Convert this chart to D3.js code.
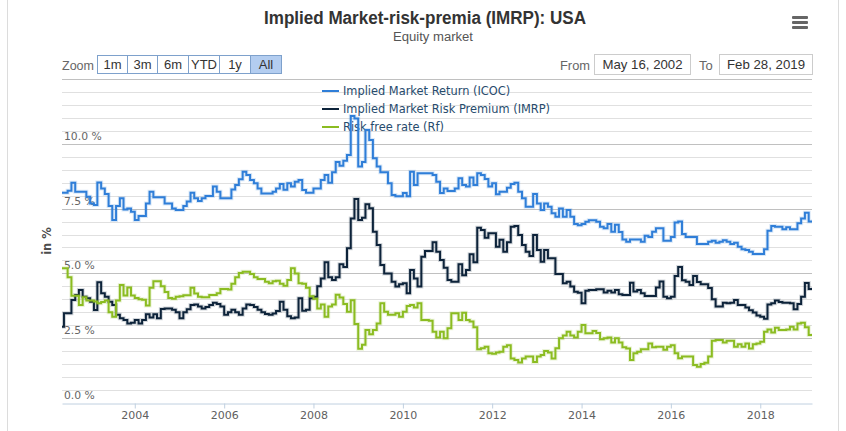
<!DOCTYPE html>
<html><head><meta charset="utf-8">
<script src="https://cdn.jsdelivr.net/npm/d3@7"></script>
<style>body{margin:0;background:#fff}svg{display:block}</style>
</head><body>
<svg id="c" width="846" height="431"></svg>
<script>
// ---------- DATA ----------
const titleText = "Implied Market-risk-premia (IMRP): USA";
const subtitleText = "Equity market";
const seriesNames = ["Implied Market Return (ICOC)", "Implied Market Risk Premium (IMRP)", "Risk free rate (Rf)"];
const seriesColors = ["#2f7ed8", "#0d233a", "#8bbc21"];
const startDate = "2002-05-16";
const endDate = "2019-02-28";
const yLabelTicks = [0, 2.5, 5, 7.5, 10];
const xTickYears = ["2004", "2006", "2008", "2010", "2012", "2014", "2016", "2018"];
const zoomButtons = ["1m", "3m", "6m", "YTD", "1y", "All"];
const fromText = "May 16, 2002";
const toText = "Feb 28, 2019";

// step change points: [date, value in %]
const icoc = [["2002-05-16",8.11],["2002-07",8.19],["2002-08",8.5],["2002-09",8.15],["2002-12",7.96],["2003-01",7.7],["2003-02",7.64],["2003-03",8.51],["2003-04",8.28],["2003-05",8.06],["2003-06",7.6],["2003-07",7.06],["2003-08",7.6],["2003-09",7.9],["2003-10",7.47],["2003-11",7.5],["2003-12",7.38],["2004-01",7.06],["2004-02",7.21],["2004-04",7.7],["2004-05",8.15],["2004-06",7.94],["2004-09",7.7],["2004-11",7.5],["2004-12",7.45],["2005-02",7.6],["2005-03",7.77],["2005-04",8.11],["2005-05",7.9],["2005-06",7.79],["2005-07",7.9],["2005-08",7.99],["2005-10",8.35],["2005-11",8.15],["2005-12",7.9],["2006-03",8.24],["2006-04",8.41],["2006-05",8.63],["2006-06",8.92],["2006-07",8.8],["2006-08",8.6],["2006-09",8.48],["2006-10",8.28],["2006-11",8.08],["2007-02",8.15],["2007-03",8.28],["2007-04",8.45],["2007-05",8.23],["2007-06",8.48],["2007-07",8.35],["2007-08",8.54],["2007-09",8.6],["2007-10",8.22],["2007-11",8.11],["2008-01",8.28],["2008-03",8.6],["2008-04",8.8],["2008-05",8.5],["2008-06",8.9],["2008-07",9.3],["2008-08",9.15],["2008-09",9.35],["2008-10",9.57],["2008-11",11.07],["2008-12",10.98],["2009-01",9.12],["2009-02",9.3],["2009-03",10.53],["2009-04",10.15],["2009-05",9.44],["2009-06",9.12],["2009-07",8.9],["2009-09",8.48],["2009-10",8.02],["2009-11",7.98],["2010-01",8.1],["2010-02",7.98],["2010-03",8.92],["2010-04",8.41],["2010-05",8.86],["2010-09",8.8],["2010-10",8.54],["2010-11",8.1],["2010-12",8.28],["2011-01",8.18],["2011-03",8.28],["2011-04",8.67],["2011-05",8.41],["2011-06",8.35],["2011-07",8.7],["2011-08",8.41],["2011-09",8.86],["2011-10",8.8],["2011-11",8.64],["2011-12",8.35],["2012-01",8.48],["2012-02",8.05],["2012-03",8.15],["2012-05",8.3],["2012-06",8.45],["2012-07",8.5],["2012-08",8.15],["2012-09",7.9],["2012-10",7.57],["2012-12",8.06],["2013-01",7.7],["2013-02",7.45],["2013-03",7.7],["2013-04",7.57],["2013-05",7.32],["2013-06",7.19],["2013-07",7.5],["2013-08",7.19],["2013-09",7.45],["2013-10",7.19],["2013-11",6.91],["2013-12",6.86],["2014-01",6.91],["2014-02",6.99],["2014-03",7.05],["2014-05",6.99],["2014-06",6.8],["2014-07",6.74],["2014-08",6.91],["2014-09",6.61],["2014-10",6.88],["2014-11",6.6],["2014-12",6.31],["2015-01",6.22],["2015-02",6.31],["2015-05",6.22],["2015-06",6.45],["2015-07",6.4],["2015-08",6.61],["2015-09",6.74],["2015-11",6.26],["2016-01",6.4],["2016-02",6.96],["2016-03",7.0],["2016-04",6.52],["2016-05",6.4],["2016-08",6.13],["2016-11",6.22],["2016-12",6.26],["2017-01",6.18],["2017-02",6.22],["2017-03",6.28],["2017-04",6.22],["2017-05",6.13],["2017-06",6.18],["2017-07",6.03],["2017-08",5.93],["2017-09",5.9],["2017-10",5.84],["2017-11",5.75],["2018-02",5.93],["2018-03",6.65],["2018-04",6.83],["2018-05",6.8],["2018-07",6.7],["2018-08",6.78],["2018-09",6.7],["2018-11",6.93],["2018-12",7.12],["2019-01",7.34],["2019-02",7.0]];

const imrp = [["2002-05-16",2.94],["2002-06",3.46],["2002-08",3.97],["2002-09",4.17],["2002-10",4.36],["2002-11",4.1],["2002-12",4.04],["2003-01",3.91],["2003-02",3.59],["2003-03",4.66],["2003-04",4.23],["2003-05",4.1],["2003-06",3.91],["2003-07",3.78],["2003-08",3.4],["2003-09",3.27],["2003-10",3.2],["2003-11",3.07],["2003-12",3.1],["2004-01",3.2],["2004-02",3.07],["2004-03",3.2],["2004-04",3.42],["2004-05",3.3],["2004-06",3.42],["2004-07",3.27],["2004-08",3.63],["2004-09",3.65],["2004-11",3.6],["2004-12",3.5],["2005-01",3.27],["2005-02",3.5],["2005-03",3.62],["2005-04",3.78],["2005-05",3.8],["2005-06",3.72],["2005-07",3.65],["2005-08",3.7],["2005-09",3.78],["2005-10",3.87],["2005-11",3.82],["2005-12",3.72],["2006-01",3.4],["2006-02",3.5],["2006-03",3.6],["2006-04",3.5],["2006-05",3.4],["2006-06",3.65],["2006-07",3.8],["2006-08",3.78],["2006-09",3.7],["2006-10",3.6],["2006-11",3.5],["2006-12",3.43],["2007-01",3.4],["2007-02",3.45],["2007-03",3.55],["2007-04",3.91],["2007-05",3.6],["2007-06",3.35],["2007-07",3.27],["2007-08",3.3],["2007-09",4.04],["2007-10",3.56],["2007-11",3.6],["2007-12",4.04],["2008-01",4.1],["2008-02",4.5],["2008-03",4.8],["2008-04",5.43],["2008-05",4.85],["2008-06",4.75],["2008-07",4.85],["2008-08",5.35],["2008-09",5.25],["2008-10",5.97],["2008-11",7.12],["2008-12",7.87],["2009-01",7.06],["2009-02",7.15],["2009-03",7.67],["2009-04",7.51],["2009-05",6.61],["2009-06",6.1],["2009-07",5.32],["2009-08",5.0],["2009-10",4.68],["2009-11",4.49],["2009-12",4.58],["2010-01",4.62],["2010-02",4.23],["2010-03",5.13],["2010-04",4.8],["2010-05",4.49],["2010-06",5.64],["2010-07",5.86],["2010-09",6.2],["2010-10",5.84],["2010-11",5.52],["2010-12",5.22],["2011-01",4.75],["2011-02",4.68],["2011-04",5.35],["2011-05",4.93],["2011-06",5.13],["2011-07",5.74],["2011-08",5.43],["2011-09",6.76],["2011-10",6.67],["2011-11",6.38],["2011-12",6.55],["2012-02",6.03],["2012-03",6.3],["2012-04",5.84],["2012-05",6.2],["2012-06",6.8],["2012-07",6.83],["2012-08",6.48],["2012-09",6.1],["2012-10",5.84],["2012-11",5.67],["2012-12",6.48],["2013-01",5.9],["2013-02",5.45],["2013-03",5.9],["2013-04",5.58],["2013-06",4.98],["2013-08",4.62],["2013-09",4.68],["2013-10",4.49],["2013-11",4.29],["2013-12",4.25],["2014-01",3.85],["2014-02",4.33],["2014-03",4.36],["2014-05",4.39],["2014-07",4.26],["2014-08",4.33],["2014-09",4.26],["2014-10",4.36],["2014-11",4.2],["2014-12",4.17],["2015-02",4.64],["2015-03",4.3],["2015-04",4.36],["2015-05",4.23],["2015-06",4.13],["2015-09",4.46],["2015-10",4.69],["2015-11",4.1],["2015-12",4.04],["2016-01",4.1],["2016-02",4.9],["2016-03",5.25],["2016-04",4.74],["2016-05",4.68],["2016-06",4.55],["2016-07",4.9],["2016-08",4.67],["2016-09",4.58],["2016-11",4.44],["2016-12",4.0],["2017-01",3.72],["2017-03",3.87],["2017-04",3.85],["2017-05",3.87],["2017-06",3.97],["2017-07",3.78],["2017-09",3.68],["2017-10",3.58],["2017-11",3.49],["2017-12",3.38],["2018-01",3.33],["2018-02",3.25],["2018-03",3.8],["2018-04",3.85],["2018-05",3.95],["2018-06",3.9],["2018-07",3.87],["2018-09",3.85],["2018-10",3.62],["2018-11",3.82],["2018-12",4.1],["2019-01",4.63],["2019-02",4.4]];

const rf = [["2002-05-16",5.2],["2002-07",4.85],["2002-08",4.14],["2002-10",3.78],["2002-11",4.08],["2002-12",3.95],["2003-02",3.92],["2003-03",3.85],["2003-04",3.9],["2003-05",3.95],["2003-06",3.5],["2003-07",3.33],["2003-08",3.95],["2003-09",4.55],["2003-10",4.15],["2003-11",4.46],["2003-12",4.15],["2004-01",4.05],["2004-02",4.0],["2004-03",3.98],["2004-04",3.76],["2004-05",4.45],["2004-06",4.7],["2004-08",4.5],["2004-09",4.28],["2004-10",4.05],["2004-11",4.02],["2004-12",4.1],["2005-01",4.12],["2005-02",4.16],["2005-04",4.45],["2005-05",4.22],["2005-06",4.1],["2005-07",4.08],["2005-09",4.17],["2005-11",4.23],["2005-12",4.4],["2006-02",4.38],["2006-03",4.6],["2006-04",4.85],["2006-05",5.02],["2006-06",5.06],["2006-08",4.98],["2006-09",4.85],["2006-10",4.78],["2006-12",4.68],["2007-01",4.62],["2007-02",4.7],["2007-03",4.72],["2007-04",4.6],["2007-05",4.52],["2007-06",4.75],["2007-07",5.2],["2007-08",5.0],["2007-09",4.62],["2007-10",4.6],["2007-11",4.45],["2007-12",4.12],["2008-01",4.02],["2008-02",3.65],["2008-03",3.8],["2008-04",3.33],["2008-05",3.72],["2008-06",3.8],["2008-07",4.18],["2008-08",4.07],["2008-09",3.82],["2008-10",3.52],["2008-11",3.96],["2008-12",3.05],["2009-01",2.09],["2009-02",2.25],["2009-03",2.82],["2009-04",2.65],["2009-05",2.82],["2009-06",3.07],["2009-07",3.85],["2009-08",3.52],["2009-09",3.4],["2009-11",3.46],["2009-12",3.33],["2010-01",3.52],["2010-02",3.74],["2010-03",3.78],["2010-04",3.68],["2010-05",3.85],["2010-06",3.2],["2010-08",3.17],["2010-09",2.75],["2010-10",2.53],["2010-11",2.75],["2010-12",2.5],["2011-01",2.88],["2011-02",3.46],["2011-04",3.2],["2011-05",3.48],["2011-06",3.2],["2011-07",3.14],["2011-08",2.92],["2011-09",2.07],["2011-10",2.11],["2011-11",2.17],["2011-12",1.92],["2012-01",1.9],["2012-02",1.95],["2012-03",1.98],["2012-04",2.17],["2012-05",2.23],["2012-06",1.72],["2012-07",1.66],["2012-08",1.56],["2012-09",1.72],["2012-10",1.79],["2012-12",1.58],["2013-01",1.79],["2013-02",1.85],["2013-03",2.01],["2013-04",1.95],["2013-05",1.72],["2013-06",2.11],["2013-07",2.5],["2013-08",2.6],["2013-09",2.75],["2013-10",2.6],["2013-11",2.53],["2013-12",2.75],["2014-01",3.01],["2014-02",2.69],["2014-04",2.78],["2014-05",2.7],["2014-06",2.46],["2014-07",2.5],["2014-08",2.53],["2014-09",2.33],["2014-10",2.5],["2014-11",2.33],["2014-12",2.15],["2015-01",2.1],["2015-02",1.66],["2015-03",1.92],["2015-04",1.98],["2015-05",2.07],["2015-07",2.3],["2015-08",2.15],["2015-09",2.17],["2015-11",2.05],["2015-12",2.17],["2016-01",2.23],["2016-02",1.92],["2016-03",1.73],["2016-04",1.79],["2016-07",1.47],["2016-08",1.4],["2016-09",1.5],["2016-10",1.55],["2016-11",1.79],["2016-12",2.4],["2017-01",2.43],["2017-03",2.33],["2017-04",2.4],["2017-06",2.17],["2017-07",2.27],["2017-08",2.17],["2017-09",2.3],["2017-10",2.1],["2017-11",2.27],["2017-12",2.3],["2018-01",2.36],["2018-02",2.75],["2018-03",2.84],["2018-04",2.72],["2018-05",2.9],["2018-06",2.82],["2018-08",2.84],["2018-09",2.94],["2018-10",2.84],["2018-11",3.07],["2018-12",3.1],["2019-01",2.92],["2019-02",2.62]];

// ---------- RENDER ----------
const NARROW = "'Liberation Sans Narrow','Arial Narrow','Liberation Sans',sans-serif";
const SANS = "'DejaVu Sans',Verdana,sans-serif";
const pFull = d3.timeParse("%Y-%m-%d"), pMonth = d3.timeParse("%Y-%m"), pYear = d3.timeParse("%Y");
const parse = s => pFull(s) || pMonth(s);

const svg = d3.select("#c");
const P = {l: 62, r: 812, t: 79, b: 403};

// container border
svg.append("rect").attr("x", 7.5).attr("y", -10).attr("width", 831).attr("height", 460)
  .attr("fill", "none").attr("stroke", "#dcdcdc").attr("stroke-width", 1);

const x = d3.scaleTime().domain([parse(startDate), parse(endDate)]).range([P.l, P.r]);
const y = d3.scaleLinear().domain([0, 12.5]).range([P.b, P.t]);

// grid
const grid = svg.append("g");
y.ticks(25).forEach(v => {
  if (v === 0) return;
  const major = Math.abs(v / 2.5 - Math.round(v / 2.5)) < 1e-6;
  grid.append("line").attr("x1", P.l).attr("x2", P.r)
    .attr("y1", Math.round(y(v)) + 0.5).attr("y2", Math.round(y(v)) + 0.5)
    .attr("stroke", major ? "#c0c0c0" : "#e0e0e0").attr("stroke-width", 1);
});

// y labels (inside plot)
const fmt = d3.format(".1f");
svg.append("g").selectAll("text").data(yLabelTicks).join("text")
  .attr("x", P.l + 2).attr("y", d => y(d) - 4)
  .attr("font-family", SANS).attr("font-size", 10.8).attr("fill", "#666")
  .text(d => fmt(d) + " %");

// y title
svg.append("text").attr("transform", "translate(51,241) rotate(-90)")
  .attr("text-anchor", "middle").attr("font-family", SANS).attr("font-weight", "bold")
  .attr("font-size", 11.5).attr("fill", "#4d4d4d").text("in %");

// x axis
const xAxis = d3.axisBottom(x).tickValues(xTickYears.map(pYear))
  .tickFormat(d3.timeFormat("%Y")).tickSize(5).tickPadding(3).tickSizeOuter(0);
const gx = svg.append("g").attr("transform", `translate(0,${P.b + 0.5})`).call(xAxis);
gx.select(".domain").attr("stroke", "#c0d0e0");
gx.selectAll(".tick line").attr("stroke", "#c0d0e0");
gx.selectAll("text").attr("font-family", SANS).attr("font-size", 11).attr("fill", "#606060");

// legend
const lg = svg.append("g");
seriesNames.forEach((n, i) => {
  const yy = 91 + i * 18;
  lg.append("line").attr("x1", 322).attr("x2", 339).attr("y1", yy).attr("y2", yy)
    .attr("stroke", seriesColors[i]).attr("stroke-width", 2);
  lg.append("text").attr("x", 343).attr("y", yy + 4).attr("font-family", SANS)
    .attr("font-size", 11.4).attr("fill", "#274b6d").text(n);
});

// series
const line = d3.line().x(d => x(d[0])).y(d => y(d[1])).curve(d3.curveStepAfter);
[icoc, imrp, rf].forEach((s, i) => {
  const pts = s.map(d => [parse(d[0]), d[1]]);
  pts.push([parse(endDate), s[s.length - 1][1]]);
  svg.append("path").attr("d", line(pts)).attr("fill", "none")
    .attr("stroke", seriesColors[i]).attr("stroke-width", 4).attr("stroke-opacity", 0.18);
  svg.append("path").attr("d", line(pts)).attr("fill", "none")
    .attr("stroke", seriesColors[i]).attr("stroke-width", 2);
});

// title
svg.append("text").attr("x", 425).attr("y", 24).attr("text-anchor", "middle")
  .attr("font-family", NARROW).attr("font-weight", "bold").attr("font-size", 18)
  .attr("textLength", 322).attr("lengthAdjust", "spacingAndGlyphs")
  .attr("fill", "#333").text(titleText);
svg.append("text").attr("x", 433).attr("y", 41).attr("text-anchor", "middle")
  .attr("font-family", NARROW).attr("font-size", 12.5)
  .attr("textLength", 80).attr("lengthAdjust", "spacingAndGlyphs")
  .attr("fill", "#555").text(subtitleText);

// menu icon
[16, 21, 26].forEach(yy => svg.append("rect").attr("x", 792).attr("y", yy).attr("width", 16)
  .attr("height", 3).attr("rx", 1).attr("fill", "#666"));

// range selector
svg.append("text").attr("x", 62).attr("y", 70).attr("font-family", NARROW)
  .attr("font-size", 13).attr("textLength", 32).attr("lengthAdjust", "spacingAndGlyphs")
  .attr("fill", "#666").text("Zoom");
const bx = [97, 127, 157, 188, 219, 250], bw = [30, 30, 31, 31, 31, 31];
zoomButtons.forEach((b, i) => {
  const sel = b === "All";
  svg.append("rect").attr("x", bx[i] + 0.5).attr("y", 55.5).attr("width", bw[i]).attr("height", 18)
    .attr("fill", sel ? "#b3cdf0" : "#fff").attr("stroke", "#7ea1cc").attr("stroke-width", 1);
  svg.append("text").attr("x", bx[i] + bw[i] / 2 + 0.5).attr("y", 69).attr("text-anchor", "middle")
    .attr("font-family", NARROW).attr("font-size", 13).attr("fill", "#333").text(b);
});
svg.append("text").attr("x", 560).attr("y", 70).attr("font-family", NARROW)
  .attr("font-size", 13).attr("textLength", 30).attr("lengthAdjust", "spacingAndGlyphs")
  .attr("fill", "#666").text("From");
svg.append("rect").attr("x", 594.5).attr("y", 54.5).attr("width", 96).attr("height", 20)
  .attr("fill", "#fff").attr("stroke", "#ccc");
svg.append("text").attr("x", 642.5).attr("y", 69).attr("text-anchor", "middle").attr("font-family", NARROW)
  .attr("font-size", 13).attr("textLength", 80).attr("lengthAdjust", "spacingAndGlyphs")
  .attr("fill", "#333").text(fromText);
svg.append("text").attr("x", 699).attr("y", 70).attr("font-family", NARROW)
  .attr("font-size", 13).attr("fill", "#666").text("To");
svg.append("rect").attr("x", 719.5).attr("y", 54.5).attr("width", 93).attr("height", 20)
  .attr("fill", "#fff").attr("stroke", "#ccc");
svg.append("text").attr("x", 766).attr("y", 69).attr("text-anchor", "middle").attr("font-family", NARROW)
  .attr("font-size", 13).attr("textLength", 78).attr("lengthAdjust", "spacingAndGlyphs")
  .attr("fill", "#333").text(toText);
</script>
</body></html>
